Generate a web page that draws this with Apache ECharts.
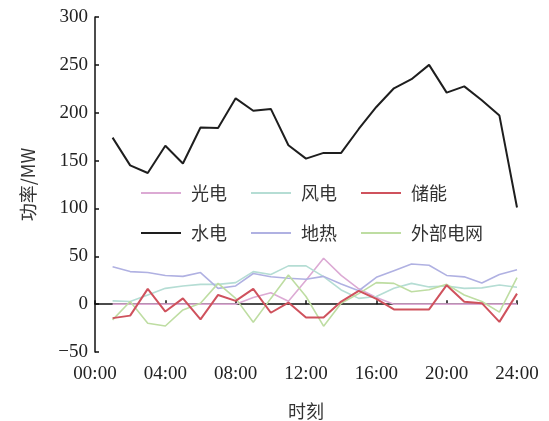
<!DOCTYPE html>
<html><head><meta charset="utf-8">
<script src="https://cdn.jsdelivr.net/npm/echarts@6/dist/echarts.min.js"></script>
<style>html,body{margin:0;padding:0;background:#fff}#c{width:549px;height:421px}</style>
</head><body><div id="c"></div>
<script>
var hours = [1,2,3,4,5,6,7,8,9,10,11,12,13,14,15,16,17,18,19,20,21,22,23,24];
var xTicks = ['00:00','04:00','08:00','12:00','16:00','20:00','24:00'];
var names = ['光电','风电','储能','水电','地热','外部电网'];
var pv     = [0,0,0,0,0,0,0,0,7,12,3,25,48,30,16,7,0,0,0,0,0,0,0,0];
var wind   = [3.4,2.7,9.6,16.5,19,20.7,20.7,22.5,34,31,40,40,28.7,14.8,6,8,16.5,21.7,18,19,16.5,17,20,17.6];
var storage= [-14.6,-12,16,-7.7,6,-16,9.6,3.4,16,-9,1.6,-14,-14,2.7,13.8,5.5,-5.5,-5.5,-5.5,19.8,2.5,1,-18.5,11];
var hydro  = [174,145,137,165.5,147,184.5,184,215,202,204,166,152,158,158,183,206,225.5,235,250,221,227.5,213,197,101];
var geo    = [39,34,33,30,29,33,16.5,19,32,28.7,27,26,29,21,14,28,35,42,40.7,30,28.5,22,31,36];
var grid   = [-16.4,2.7,-20,-22.8,-6,1,21.7,6,-19,6,30.4,8,-23,1,11,22.5,21.7,13,15,20.7,9.6,2.7,-8.4,27.6];
var colors = ['#dcaad4','#b5ddd4','#cf525d','#1e1e1e','#b0b1e2','#bedda2'];
var widths = [1.6,1.6,2,2,1.6,1.6];
var seriesData = [pv,wind,storage,hydro,geo,grid];

var serif = '"Liberation Serif","Times New Roman",serif';
var cjk = '"Noto Sans CJK SC","Noto Sans CJK JP",sans-serif';
var chart = echarts.init(document.getElementById('c'));
function pair(arr){return hours.map(function(h,i){return [h,arr[i]];});}
var series = names.map(function(n,i){
  return {name:n,type:'line',data:pair(seriesData[i]),showSymbol:false,symbol:'none',
    lineStyle:{color:colors[i],width:widths[i]},itemStyle:{color:colors[i]},
    z: i===3?5:(i===2?4:2), animation:false};
});
function legend(data,top){
  return {data:data,left:136,top:top,orient:'horizontal',icon:'rect',itemWidth:40,itemHeight:2,
    itemGap:24,textStyle:{fontFamily:cjk,fontSize:18,color:'#333',padding:[0,0,0,5]}};
}
chart.setOption({
  animation:false,
  grid:{left:95,right:32,top:17,bottom:69,containLabel:false,outerBoundsMode:'none'},
  legend:[legend(names.slice(0,3),179),legend(names.slice(3),219)],
  xAxis:{type:'value',min:0,max:24,interval:4,
    name:'时刻',nameLocation:'middle',nameGap:50,
    nameTextStyle:{fontFamily:cjk,fontSize:18,color:'#333'},
    axisLine:{lineStyle:{color:'#111',width:1.5}},
    axisTick:{inside:true,length:4,lineStyle:{color:'#111',width:1.5}},
    splitLine:{show:false},
    axisLabel:{fontFamily:serif,fontSize:19,color:'#222',margin:13,
      formatter:function(v){return xTicks[v/4];}}},
  yAxis:{type:'value',min:-50,max:300,interval:50,
    name:'功率/MW',nameLocation:'middle',nameGap:58,nameRotate:90,
    nameTextStyle:{fontFamily:cjk,fontSize:18,color:'#333'},
    axisLine:{show:true,lineStyle:{color:'#111',width:1.5}},
    axisTick:{show:true,inside:true,length:4,lineStyle:{color:'#111',width:1.5}},
    splitLine:{show:false},
    axisLabel:{fontFamily:serif,fontSize:19,color:'#222',margin:7,
      formatter:function(v){return v<0?'\u2212'+Math.abs(v):String(v);}}},
  series:series
});
</script></body></html>
